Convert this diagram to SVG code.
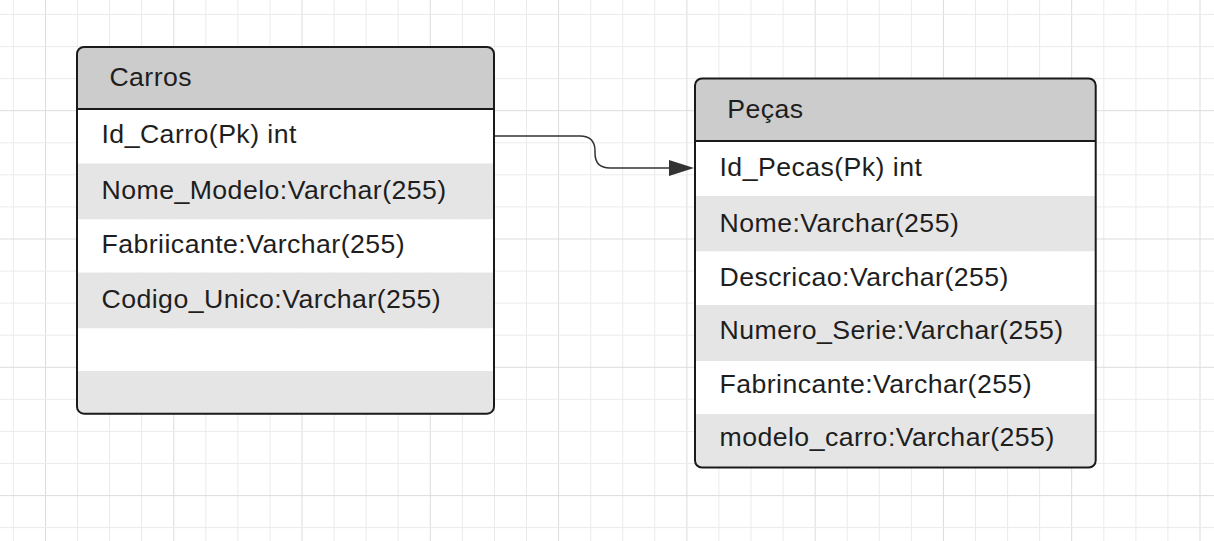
<svg xmlns="http://www.w3.org/2000/svg" width="1214" height="541" viewBox="0 0 1214 541">
<style>
.g{stroke:#ebebeb;stroke-width:1}
.gm{stroke:#dcdcdc;stroke-width:1}
.hd{fill:#cccccc}
.wr{fill:#ffffff}
.gr{fill:#e5e5e5}
.bd{fill:none;stroke:#1a1a1a;stroke-width:2}
.sep{stroke:#1a1a1a;stroke-width:2}
.t{font-family:"Liberation Sans",Arial,sans-serif;font-size:26.67px;letter-spacing:0.45px;fill:#1e1e1e}
.cn{fill:none;stroke:#333333;stroke-width:1.5}
</style>
<defs>
<clipPath id="cc"><rect x="77" y="47" width="417" height="366.7" rx="7"/></clipPath>
<clipPath id="pc"><rect x="695" y="78.5" width="400.7" height="389" rx="7"/></clipPath>
</defs>
<rect width="1214" height="541" fill="#ffffff"/>
<g id="grid">
<line class="g" x1="13.4" y1="0" x2="13.4" y2="541"/>
<line class="gm" x1="45.5" y1="0" x2="45.5" y2="541"/>
<line class="g" x1="77.5" y1="0" x2="77.5" y2="541"/>
<line class="g" x1="109.6" y1="0" x2="109.6" y2="541"/>
<line class="g" x1="141.7" y1="0" x2="141.7" y2="541"/>
<line class="gm" x1="173.8" y1="0" x2="173.8" y2="541"/>
<line class="g" x1="205.8" y1="0" x2="205.8" y2="541"/>
<line class="g" x1="237.9" y1="0" x2="237.9" y2="541"/>
<line class="g" x1="270" y1="0" x2="270" y2="541"/>
<line class="gm" x1="302" y1="0" x2="302" y2="541"/>
<line class="g" x1="334.1" y1="0" x2="334.1" y2="541"/>
<line class="g" x1="366.2" y1="0" x2="366.2" y2="541"/>
<line class="g" x1="398.2" y1="0" x2="398.2" y2="541"/>
<line class="gm" x1="430.3" y1="0" x2="430.3" y2="541"/>
<line class="g" x1="462.4" y1="0" x2="462.4" y2="541"/>
<line class="g" x1="494.5" y1="0" x2="494.5" y2="541"/>
<line class="g" x1="526.5" y1="0" x2="526.5" y2="541"/>
<line class="gm" x1="558.6" y1="0" x2="558.6" y2="541"/>
<line class="g" x1="590.7" y1="0" x2="590.7" y2="541"/>
<line class="g" x1="622.7" y1="0" x2="622.7" y2="541"/>
<line class="g" x1="654.8" y1="0" x2="654.8" y2="541"/>
<line class="gm" x1="686.9" y1="0" x2="686.9" y2="541"/>
<line class="g" x1="718.9" y1="0" x2="718.9" y2="541"/>
<line class="g" x1="751" y1="0" x2="751" y2="541"/>
<line class="g" x1="783.1" y1="0" x2="783.1" y2="541"/>
<line class="gm" x1="815.2" y1="0" x2="815.2" y2="541"/>
<line class="g" x1="847.2" y1="0" x2="847.2" y2="541"/>
<line class="g" x1="879.3" y1="0" x2="879.3" y2="541"/>
<line class="g" x1="911.4" y1="0" x2="911.4" y2="541"/>
<line class="gm" x1="943.4" y1="0" x2="943.4" y2="541"/>
<line class="g" x1="975.5" y1="0" x2="975.5" y2="541"/>
<line class="g" x1="1007.6" y1="0" x2="1007.6" y2="541"/>
<line class="g" x1="1039.6" y1="0" x2="1039.6" y2="541"/>
<line class="gm" x1="1071.7" y1="0" x2="1071.7" y2="541"/>
<line class="g" x1="1103.8" y1="0" x2="1103.8" y2="541"/>
<line class="g" x1="1135.9" y1="0" x2="1135.9" y2="541"/>
<line class="g" x1="1167.9" y1="0" x2="1167.9" y2="541"/>
<line class="gm" x1="1200" y1="0" x2="1200" y2="541"/>
<line class="g" x1="0" y1="14.5" x2="1214" y2="14.5"/>
<line class="g" x1="0" y1="46.6" x2="1214" y2="46.6"/>
<line class="g" x1="0" y1="78.6" x2="1214" y2="78.6"/>
<line class="gm" x1="0" y1="110.7" x2="1214" y2="110.7"/>
<line class="g" x1="0" y1="142.8" x2="1214" y2="142.8"/>
<line class="g" x1="0" y1="174.8" x2="1214" y2="174.8"/>
<line class="g" x1="0" y1="206.9" x2="1214" y2="206.9"/>
<line class="gm" x1="0" y1="239" x2="1214" y2="239"/>
<line class="g" x1="0" y1="271.1" x2="1214" y2="271.1"/>
<line class="g" x1="0" y1="303.1" x2="1214" y2="303.1"/>
<line class="g" x1="0" y1="335.2" x2="1214" y2="335.2"/>
<line class="gm" x1="0" y1="367.3" x2="1214" y2="367.3"/>
<line class="g" x1="0" y1="399.3" x2="1214" y2="399.3"/>
<line class="g" x1="0" y1="431.4" x2="1214" y2="431.4"/>
<line class="g" x1="0" y1="463.5" x2="1214" y2="463.5"/>
<line class="gm" x1="0" y1="495.6" x2="1214" y2="495.6"/>
<line class="g" x1="0" y1="527.6" x2="1214" y2="527.6"/>
</g>
<g id="carros">
<g clip-path="url(#cc)">
<rect class="hd" x="77" y="47" width="417" height="62"/>
<rect class="wr" x="77" y="109" width="417" height="54.5"/>
<rect class="gr" x="77" y="163.5" width="417" height="56"/>
<rect class="wr" x="77" y="219.5" width="417" height="53"/>
<rect class="gr" x="77" y="272.5" width="417" height="56"/>
<rect class="wr" x="77" y="328.5" width="417" height="42.5"/>
<rect class="gr" x="77" y="371" width="417" height="43"/>
</g>
<line class="sep" x1="77" y1="109" x2="494" y2="109"/>
<rect class="bd" x="77" y="47" width="417" height="366.7" rx="7"/>
<text class="t" x="109.4" y="85.7">Carros</text>
<text class="t" x="101.5" y="143.3">Id_Carro(Pk) int</text>
<text class="t" x="101.5" y="199.3">Nome_Modelo:Varchar(255)</text>
<text class="t" x="101.5" y="253.3">Fabriicante:Varchar(255)</text>
<text class="t" x="101.5" y="308">Codigo_Unico:Varchar(255)</text>
</g>
<g id="pecas">
<g clip-path="url(#pc)">
<rect class="hd" x="695" y="78.5" width="401" height="62.5"/>
<rect class="wr" x="695" y="141" width="401" height="55"/>
<rect class="gr" x="695" y="196" width="401" height="55.5"/>
<rect class="wr" x="695" y="251.5" width="401" height="53.5"/>
<rect class="gr" x="695" y="305" width="401" height="56"/>
<rect class="wr" x="695" y="361" width="401" height="53"/>
<rect class="gr" x="695" y="414" width="401" height="54"/>
</g>
<line class="sep" x1="695" y1="141" x2="1095.7" y2="141"/>
<rect class="bd" x="695" y="78.5" width="400.7" height="389" rx="7"/>
<text class="t" x="727.2" y="117.7">Peças</text>
<text class="t" x="719.5" y="176">Id_Pecas(Pk) int</text>
<text class="t" x="719.5" y="231.7">Nome:Varchar(255)</text>
<text class="t" x="719.5" y="285.7">Descricao:Varchar(255)</text>
<text class="t" x="719.5" y="339">Numero_Serie:Varchar(255)</text>
<text class="t" x="719.5" y="393.3">Fabrincante:Varchar(255)</text>
<text class="t" x="719.5" y="445.5">modelo_carro:Varchar(255)</text>
</g>
<g id="connectors">
<path class="cn" d="M 495 136 L 580 136 C 590 136 595 141 595 151 L 595 153 C 595 163 600 168 610 168 L 670 168"/>
<polygon points="669,160 694,168 669,176" fill="#333333"/>
</g>
</svg>
